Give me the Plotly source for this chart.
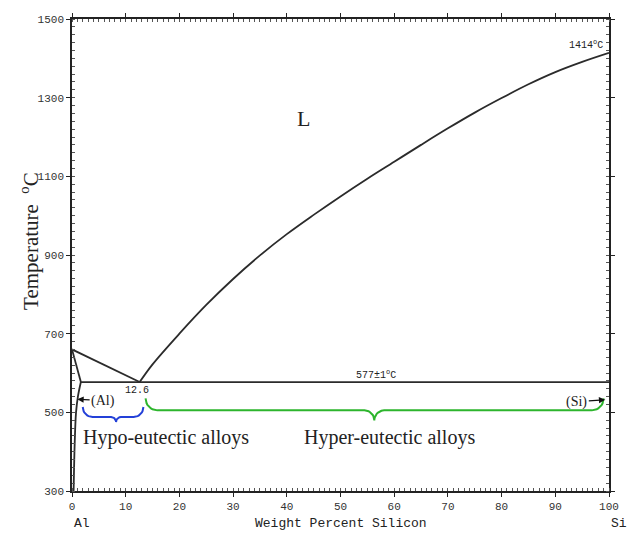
import numpy as np
import plotly.graph_objects as go

# ---------------- data ----------------
x_ticks = [0, 10, 20, 30, 40, 50, 60, 70, 80, 90, 100]
y_ticks = [300, 500, 700, 900, 1100, 1300, 1500]

# liquidus, Al side
liq_al_x = [0, 12.6]
liq_al_t = [660, 577]
# liquidus, Si side
liq_si_x = [12.6, 15, 20, 25, 30, 35, 40, 45, 50, 55, 60, 65, 70, 75, 80, 85, 90, 95, 100]
liq_si_t = [577, 622, 700, 773, 839, 899, 953, 1002, 1049, 1094, 1137, 1180, 1222, 1262, 1299, 1334, 1365, 1391, 1414]
# solidus of (Al)
sol_x = [0, 1.65]
sol_t = [660, 577]
# solvus of (Al)
solv_x = [1.65, 1.1, 0.75, 0.5, 0.3]
solv_t = [577, 540, 500, 420, 300]
# eutectic isotherm
eut_x = [1.65, 100]
eut_t = [577, 577]

# braces: (start %, end %, tip %, line temp, end radius px, tip radius px)
hypo_brace = (2.0, 13.3, 8.2, 488, 10, 5)
hyper_brace = (13.7, 99.0, 56.3, 505, 12, 10)

W, H = 630, 534
ML, MR, MT, MB = 72, 11, 19, 43
XR = [0, 100]
YR = [300, 1500]
kx = (W - ML - MR) / (XR[1] - XR[0])
ky = (H - MT - MB) / (YR[1] - YR[0])


def brace_path(b, n=12):
    u0, u1, um, tline, r, t = b
    u0, u1, um = u0 * kx, u1 * kx, um * kx
    v = tline * ky
    pu, pv = [], []

    def arc(cx, cy, rad, a0, a1):
        th = np.linspace(a0, a1, n)
        pu.extend(cx + rad * np.cos(th))
        pv.extend(cy + rad * np.sin(th))

    arc(u0 + r, v + r, r, np.pi, 1.5 * np.pi)
    arc(um - t, v - t, t, 0.5 * np.pi, 0)
    arc(um + t, v - t, t, np.pi, 0.5 * np.pi)
    arc(u1 - r, v + r, r, 1.5 * np.pi, 2 * np.pi)
    return np.array(pu) / kx, np.array(pv) / ky


fig = go.Figure()
lc = dict(color="#2b2b2b", width=1.8)
for xs, ts, shp in [(liq_al_x, liq_al_t, "linear"), (liq_si_x, liq_si_t, "spline"),
                    (sol_x, sol_t, "linear"), (solv_x, solv_t, "spline"),
                    (eut_x, eut_t, "linear")]:
    fig.add_trace(go.Scatter(x=xs, y=ts, mode="lines", line=dict(lc, shape=shp),
                             hoverinfo="skip", showlegend=False))

bx, by = brace_path(hypo_brace)
fig.add_trace(go.Scatter(x=bx, y=by, mode="lines", line=dict(color="#2340d8", width=2),
                         hoverinfo="skip", showlegend=False))
gx, gy = brace_path(hyper_brace)
fig.add_trace(go.Scatter(x=gx, y=gy, mode="lines", line=dict(color="#2db52d", width=2),
                         hoverinfo="skip", showlegend=False))

serif = "Liberation Serif"
mono = "Liberation Mono"
ann = []
ann.append(dict(x=43.1, y=1248, text="L", showarrow=False,
                font=dict(family=serif, size=22, color="#222")))
ann.append(dict(x=95.7, y=1434, text="1414<sup>o</sup>C", showarrow=False,
                font=dict(family=mono, size=10, color="#222")))
ann.append(dict(x=56.7, y=597, text="577±1<sup>o</sup>C", showarrow=False,
                font=dict(family=mono, size=10, color="#222")))
ann.append(dict(x=12.1, y=556, text="12.6", showarrow=False,
                font=dict(family=mono, size=10, color="#222")))
ann.append(dict(x=1.0, y=533, ax=5.8, ay=530, axref="x", ayref="y", text="(Al)",
                showarrow=True, arrowhead=2, arrowsize=0.9, arrowwidth=1.4, arrowcolor="#111",
                font=dict(family=serif, size=14, color="#222")))
ann.append(dict(x=99.3, y=532, ax=94.0, ay=527, axref="x", ayref="y", text="(Si)",
                showarrow=True, arrowhead=2, arrowsize=0.9, arrowwidth=1.4, arrowcolor="#111",
                font=dict(family=serif, size=14, color="#222")))
ann.append(dict(x=1.6, y=436, text="Hypo-eutectic alloys", showarrow=False, xanchor="left",
                font=dict(family=serif, size=20, color="#222")))
ann.append(dict(x=75.5, y=436, text="Hyper-eutectic alloys", showarrow=False, xanchor="right",
                font=dict(family=serif, size=20, color="#222")))
# axis titles
ann.append(dict(xref="paper", yref="paper", x=-0.078, y=0.53, textangle=-90,
                xanchor="center", yanchor="middle",
                text="Temperature  <sup>o</sup>C", showarrow=False,
                font=dict(family=serif, size=21, color="#222")))
ann.append(dict(xref="paper", yref="paper", x=0.5, y=-0.068, yanchor="middle",
                text="Weight Percent Silicon", showarrow=False,
                font=dict(family=mono, size=13, color="#222")))
ann.append(dict(xref="paper", yref="paper", x=0.0, y=-0.068, yanchor="middle", xanchor="left",
                text="Al", showarrow=False, font=dict(family=mono, size=13, color="#222")))
ann.append(dict(xref="paper", yref="paper", x=1.0, y=-0.068, yanchor="middle", xanchor="left",
                text="Si", showarrow=False, font=dict(family=mono, size=13, color="#222")))

axis_common = dict(showgrid=False, zeroline=False, showline=True, linecolor="#222",
                   linewidth=1.6, mirror="allticks", ticks="outside", ticklen=4,
                   tickwidth=1.2, tickcolor="#222",
                   tickfont=dict(family=mono, size=11, color="#333"))
fig.update_xaxes(range=XR, tickvals=x_ticks, ticktext=[str(v) for v in x_ticks],
                 minor=dict(ticks="inside", dtick=1, ticklen=3, tickwidth=1, tickcolor="#555"),
                 **axis_common)
fig.update_yaxes(range=YR, tickvals=y_ticks, ticktext=[str(v) for v in y_ticks],
                 minor=dict(ticks="inside", dtick=20, ticklen=3, tickwidth=1, tickcolor="#555"),
                 **axis_common)
fig.update_layout(width=W, height=H, margin=dict(l=ML, r=MR, t=MT, b=MB),
                  paper_bgcolor="white", plot_bgcolor="white", annotations=ann,
                  showlegend=False)
fig.write_html("out.html")
